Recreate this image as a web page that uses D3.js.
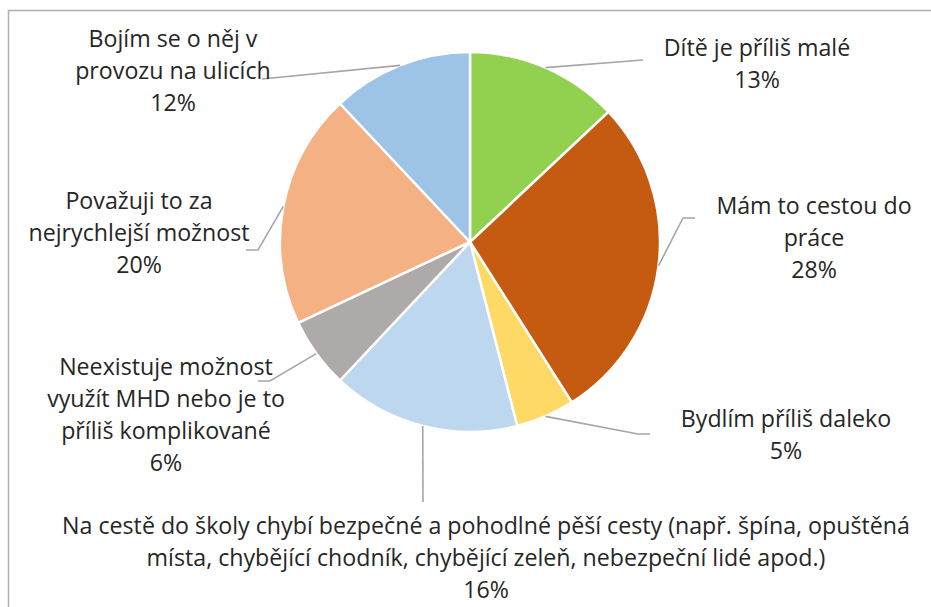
<!DOCTYPE html>
<html lang="cs">
<head>
<meta charset="utf-8">
<title>Důvody</title>
<script src="https://d3js.org/d3.v7.min.js"></script>
<style>
body { margin: 0; background: #fff; }
.lbl { font-family: "Open Sans", Lato, sans-serif; font-size: 23.2px; fill: #262626; }
</style>
</head>
<body>
<div id="chart"></div>
<script>
// data, clockwise from 12 o'clock
var categories = [
  "Dítě je příliš malé",
  "Mám to cestou do práce",
  "Bydlím příliš daleko",
  "Na cestě do školy chybí bezpečné a pohodlné pěší cesty (např. špína, opuštěná místa, chybějící chodník, chybějící zeleň, nebezpeční lidé apod.)",
  "Neexistuje možnost využít MHD nebo je to příliš komplikované",
  "Považuji to za nejrychlejší možnost",
  "Bojím se o něj v provozu na ulicích"
];
var values = [13, 28, 5, 16, 6, 20, 12];
var colors = ["#92d050", "#c55a11", "#ffd966", "#bdd7ee", "#aeaaaa", "#f4b183", "#9dc3e6"];

// label text broken into lines as in the original
var labelLines = [
  ["Dítě je příliš malé"],
  ["Mám to cestou do", "práce"],
  ["Bydlím příliš daleko"],
  ["Na cestě do školy chybí bezpečné a pohodlné pěší cesty (např. špína, opuštěná",
   "místa, chybějící chodník, chybějící zeleň, nebezpeční lidé apod.)"],
  ["Neexistuje možnost", "využít MHD nebo je to", "příliš komplikované"],
  ["Považuji to za", "nejrychlejší možnost"],
  ["Bojím se o něj v", "provozu na ulicích"]
];

var W = 931, H = 607;
var cx = 470, cy = 242, r = 190;
var lineH = 32;

// label placement: text centre x, first line y, leader elbow and end
var labelPos = [
  {x: 757, y: 47,  elbow: [643, 60],  end: [643, 60]},
  {x: 814, y: 205, elbow: [683, 218], end: [695, 218]},
  {x: 786, y: 418, elbow: [638, 434], end: [650, 434]},
  {x: 486, y: 525, elbow: [423, 502], end: [423, 502]},
  {x: 166, y: 366, elbow: [270, 381], end: [258, 381]},
  {x: 139, y: 200, elbow: [258, 250], end: [246, 250]},
  {x: 173, y: 38,  elbow: [262, 79],  end: [262, 79]}
];

var svg = d3.select("#chart").append("svg")
  .attr("width", W).attr("height", H);

// chart frame (runs off the right and bottom edge)
svg.append("rect")
  .attr("x", 8.5).attr("y", 10.5)
  .attr("width", W + 20).attr("height", H + 20)
  .attr("fill", "none")
  .attr("stroke", "#b0b0b0")
  .attr("stroke-width", 1.5);

var data = categories.map(function(c, i) { return {name: c, value: values[i], i: i}; });

var pie = d3.pie().sort(null).value(function(d) { return d.value; });
var arcs = pie(data);
var arc = d3.arc().innerRadius(0).outerRadius(r);
var edge = d3.arc().innerRadius(r).outerRadius(r);

var g = svg.append("g").attr("transform", "translate(" + cx + "," + cy + ")");

g.selectAll("path.slice")
  .data(arcs)
  .enter().append("path")
    .attr("class", "slice")
    .attr("d", arc)
    .attr("fill", function(d) { return colors[d.data.i]; })
    .attr("stroke", "#fff")
    .attr("stroke-width", 2.5)
    .attr("stroke-linejoin", "round");

// leader lines
svg.selectAll("polyline.leader")
  .data(arcs)
  .enter().append("polyline")
    .attr("class", "leader")
    .attr("fill", "none")
    .attr("stroke", "#a6a6a6")
    .attr("stroke-width", 1.6)
    .attr("points", function(d) {
      var c = edge.centroid(d);
      var p = labelPos[d.data.i];
      return [[cx + c[0], cy + c[1]], p.elbow, p.end].map(function(q) { return q.join(","); }).join(" ");
    });

// labels
var lbl = svg.selectAll("text.lbl")
  .data(arcs)
  .enter().append("text")
    .attr("class", "lbl")
    .attr("text-anchor", "middle")
    .attr("dominant-baseline", "central");

lbl.each(function(d) {
  var t = d3.select(this);
  var p = labelPos[d.data.i];
  var lines = labelLines[d.data.i].concat([d.data.value + "%"]);
  lines.forEach(function(s, k) {
    t.append("tspan").attr("x", p.x).attr("y", p.y + k * lineH).text(s);
  });
});
</script>
</body>
</html>
